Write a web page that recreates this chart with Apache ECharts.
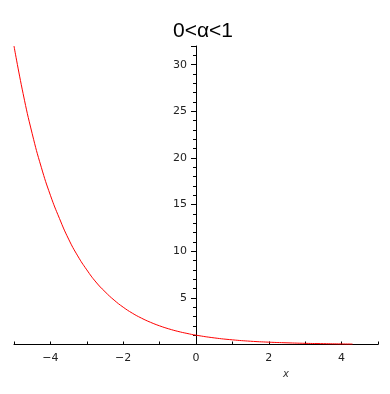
<!DOCTYPE html>
<html><head><meta charset="utf-8">
<script src="https://cdn.jsdelivr.net/npm/echarts@6/dist/echarts.min.js"></script>
<style>html,body{margin:0;padding:0;background:#fff}#c{width:390px;height:394px}</style>
</head><body><div id="c"></div>
<script>
var titleText = '0<α<1';
var xs = [-5, -4.75, -4.5, -4.25, -4, -3.75, -3.5, -3.25, -3, -2.75, -2.5, -2.25, -2, -1.75, -1.5, -1.25, -1, -0.75, -0.5, -0.25, 0, 0.5, 1, 1.5, 2, 2.5, 3, 3.5, 4, 4.3];
var ys = [32, 26.9, 22.6, 19.0, 16, 13.5, 11.3, 9.5, 8, 6.7, 5.66, 4.76, 4, 3.36, 2.83, 2.38, 2, 1.68, 1.41, 1.19, 1, 0.71, 0.5, 0.35, 0.25, 0.18, 0.125, 0.09, 0.06, 0.05];
var xLabels = [-4, -2, 0, 2, 4];
var yLabels = [5, 10, 15, 20, 25, 30];
var data = xs.map(function (x, i) { return [x, ys[i]]; });
var chart = echarts.init(document.getElementById('c'));
var font = 'DejaVu Sans';
chart.setOption({
  animation: false,
  backgroundColor: '#fff',
  title: { text: titleText, left: 198, top: 16, textAlign: 'center',
    textStyle: { fontSize: 21, fontWeight: 'normal', color: '#000', fontFamily: 'Liberation Sans' } },
  grid: { left: 14, width: 364, top: 46, bottom: 49.5, outerBoundsMode: 'none', containLabel: false },
  xAxis: {
    type: 'value', min: -5, max: 5, interval: 1,
    name: 'x', nameLocation: 'middle', nameGap: 25,
    nameTextStyle: { fontStyle: 'italic', fontSize: 10, color: '#333', fontFamily: font, padding: [0, 0, 0, 180] },
    axisLine: { onZero: false, lineStyle: { color: '#000', width: 1 } },
    axisTick: { inside: true, length: 3, lineStyle: { color: '#000' } },
    axisLabel: { fontSize: 11, color: '#222', fontFamily: font, margin: 8,
      formatter: function (v) { return xLabels.indexOf(v) >= 0 ? String(v).replace('-', '\u2212') : ''; } },
    splitLine: { show: false }
  },
  yAxis: {
    type: 'value', min: 0, max: 32, interval: 5, position: 'left', offset: -182,
    axisLine: { onZero: false, lineStyle: { color: '#000', width: 1 } },
    axisTick: { length: 5, lineStyle: { color: '#000' } },
    minorTick: { show: true, splitNumber: 5, length: 3, lineStyle: { color: '#000' } },
    axisLabel: { fontSize: 11, color: '#222', fontFamily: font, margin: 9,
      formatter: function (v) { return yLabels.indexOf(v) >= 0 ? String(v) : ''; } },
    splitLine: { show: false }
  },
  series: [{
    type: 'line', data: data, smooth: true, showSymbol: false,
    lineStyle: { color: '#ff0000', width: 1 }
  }]
});
</script></body></html>
